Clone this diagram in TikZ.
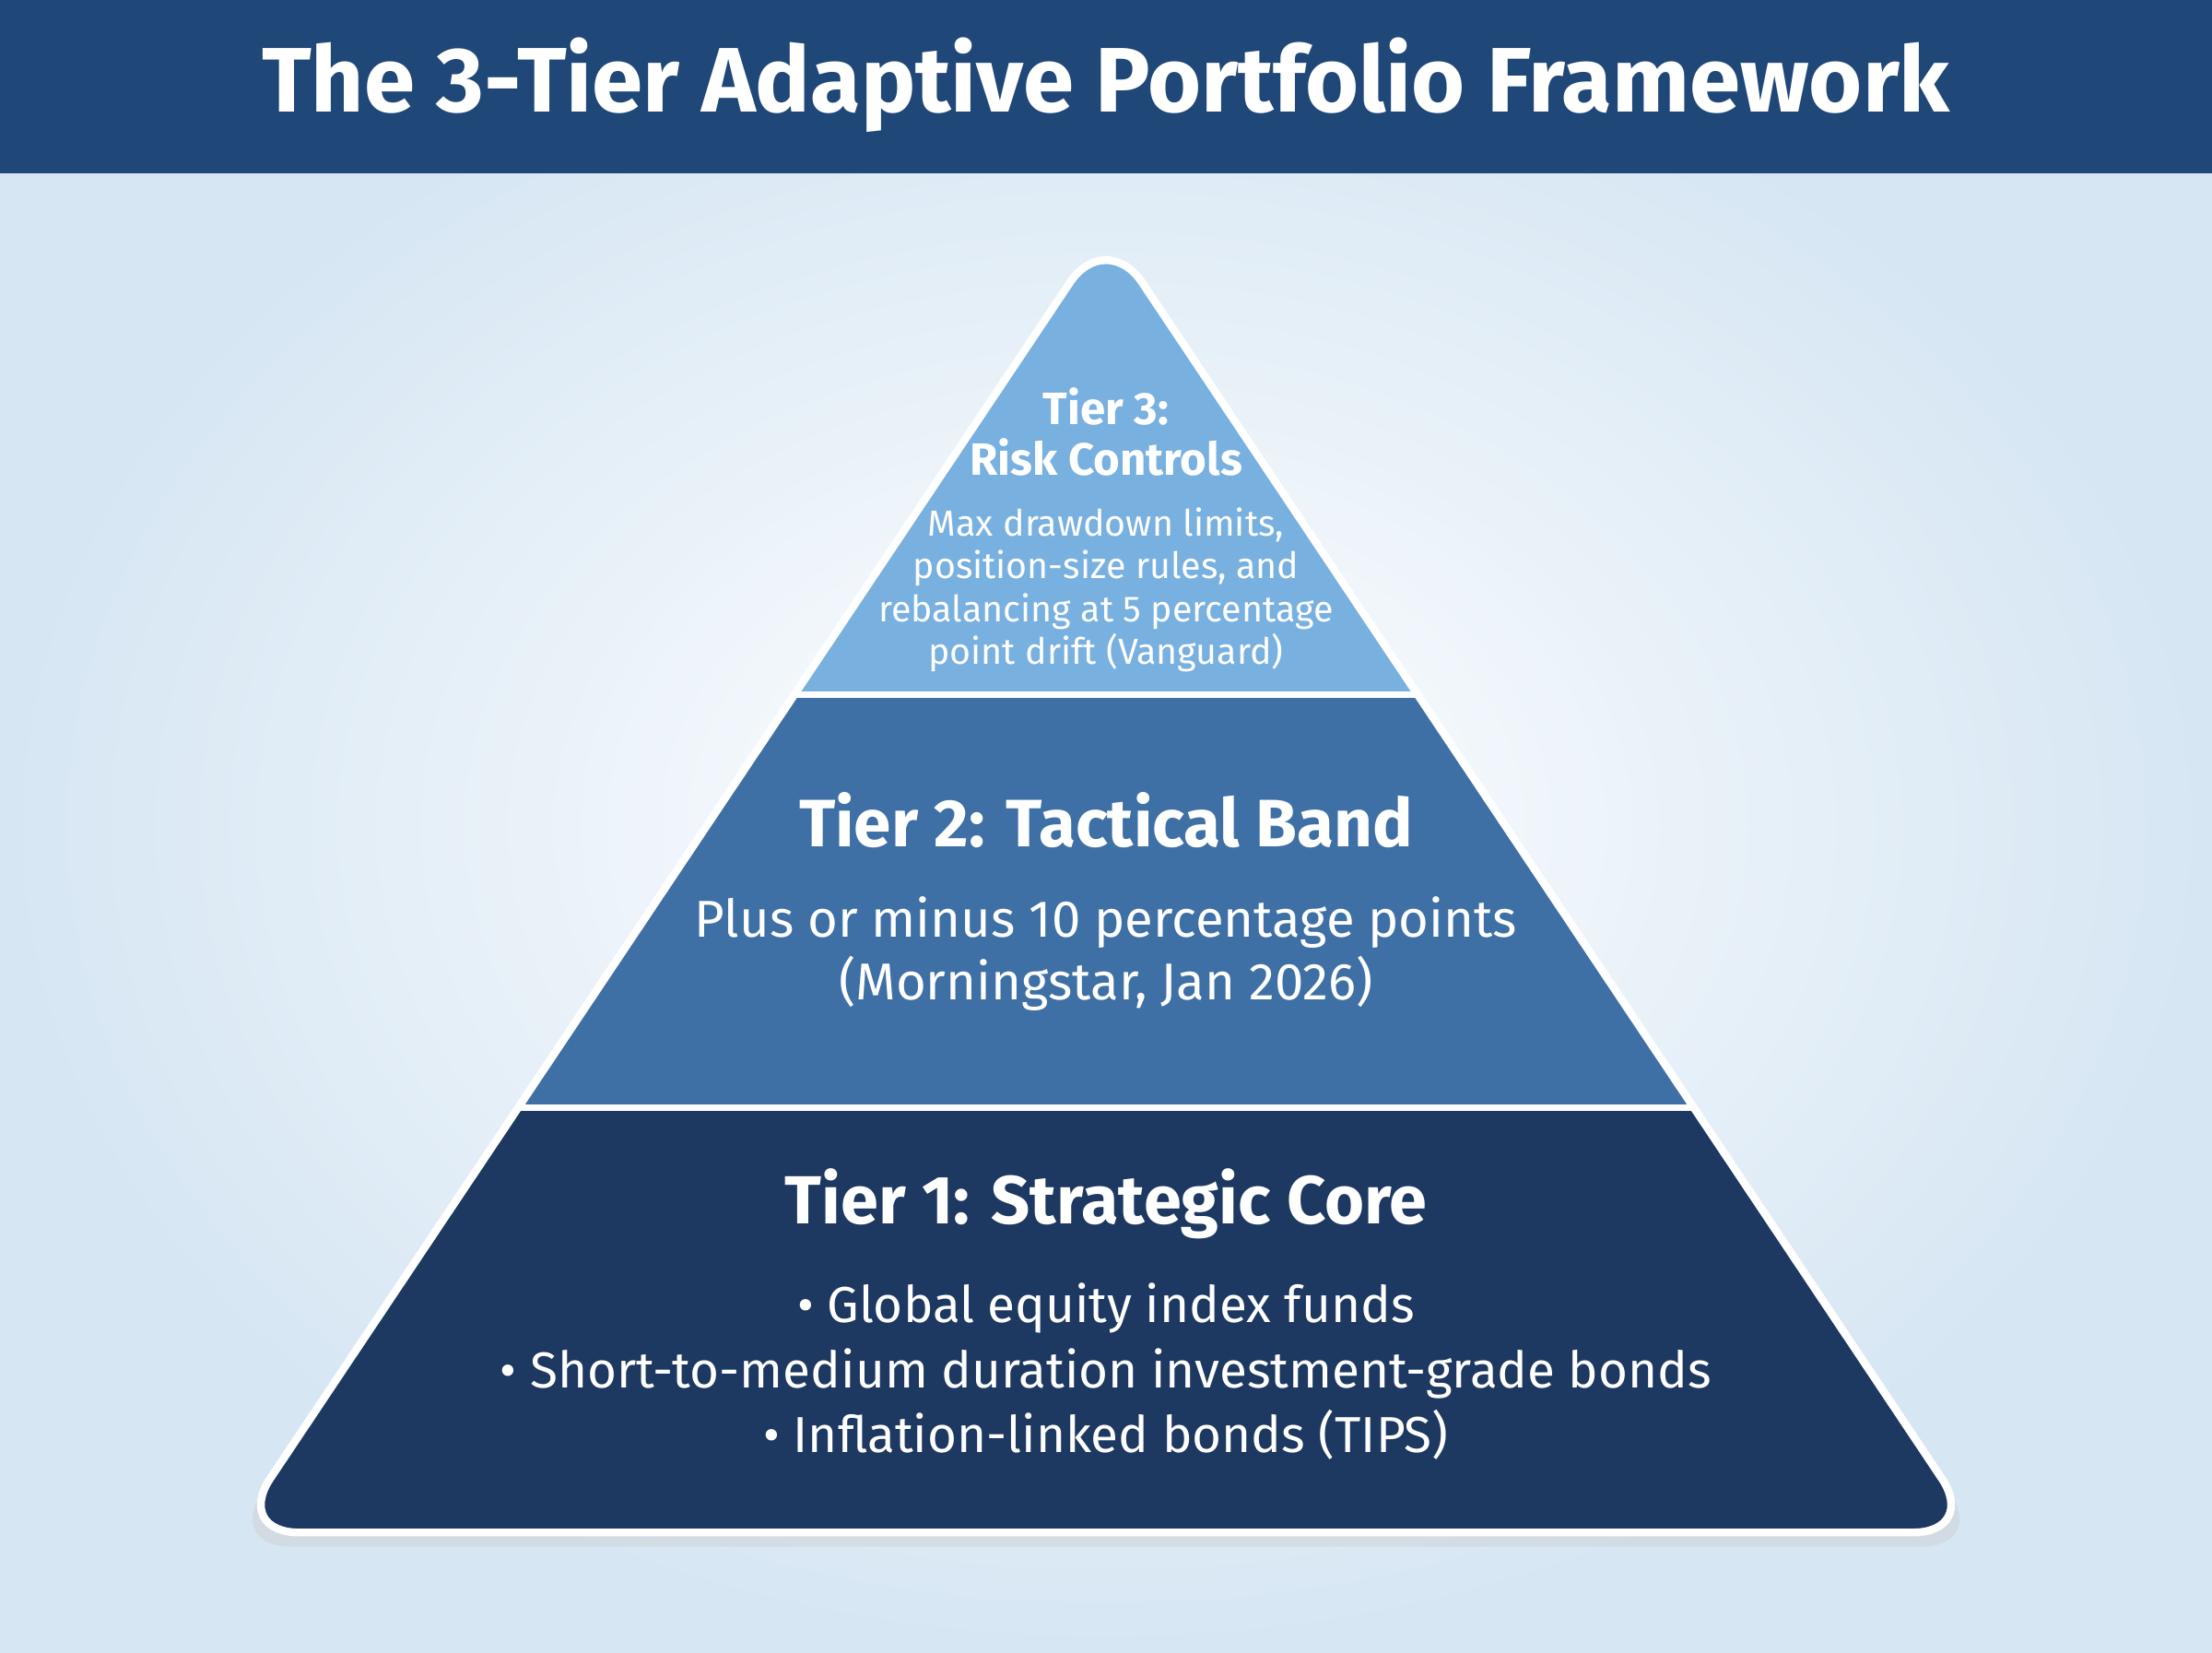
\documentclass[tikz,border=0pt]{standalone}
\usepackage{fontspec}
\setmainfont{Fira Sans}
\definecolor{titlebar}{HTML}{1F4778}
\definecolor{bgblue}{HTML}{D6E6F3}
\definecolor{tierthree}{HTML}{78B0E0}
\definecolor{tiertwo}{HTML}{3E70A6}
\definecolor{tierone}{HTML}{1D3861}
\begin{document}
\begin{tikzpicture}[x=0.01531cm, y=-0.01531cm]
    \tikzstyle{tierhead} = [text=white, font=\bfseries, align=center, inner sep=0pt]
    \tikzstyle{tierbody} = [text=white, align=center, inner sep=0pt]
  % background and title bar
  \useasboundingbox (0,0) rectangle (1568,1171);
  \shade[inner color=white, outer color=bgblue] (0,0) rectangle (1568,1171);
  \fill[titlebar] (0,0) rectangle (1568,123);
  \node[text=white, font=\fontsize{28.3}{34}\selectfont\bfseries](title) at (784,60){The 3-Tier Adaptive Portfolio Framework};
  % pyramid
  \coordinate (apex) at (784,162);
  \coordinate (bl) at (166,1086);
  \coordinate (br) at (1402,1086);
  \fill[black!20, opacity=.4, rounded corners=20] (784,172) -- (1408,1096) -- (160,1096) -- cycle;
  \begin{scope}
    \clip[rounded corners=20] (apex) -- (br) -- (bl) -- cycle;
    \fill[tierthree] (150,150) rectangle (1420,492);
    \fill[tiertwo] (150,492) rectangle (1420,785);
    \fill[tierone] (150,785) rectangle (1420,1100);
    \draw[white, line width=2pt] (150,492) -- (1420,492);
    \draw[white, line width=2pt] (150,785) -- (1420,785);
  \end{scope}
  \draw[white, line width=2.4pt, rounded corners=20] (apex) -- (br) -- (bl) -- cycle;
  % tier 3
  \node[tierhead, font=\fontsize{14}{15.6}\selectfont\bfseries](t3head) at (784,306){Tier 3:\\Risk Controls};
  \node[tierbody, font=\fontsize{11.2}{13.2}\selectfont](t3body) at (784,418){Max drawdown limits,\\position-size rules, and\\rebalancing at 5 percentage\\point drift (Vanguard)};
  % tier 2
  \node[tierhead, font=\fontsize{20.7}{26}\selectfont\bfseries](t2head) at (784,581){Tier 2: Tactical Band};
  \node[tierbody, font=\fontsize{16}{19.5}\selectfont](t2body) at (784,676){Plus or minus 10 percentage points\\(Morningstar, Jan 2026)};
  % tier 1
  \node[tierhead, font=\fontsize{21}{26}\selectfont\bfseries](t1head) at (784,853){Tier 1: Strategic Core};
  \node[tierbody, font=\fontsize{15.6}{20}\selectfont](t1body) at (784,972){• Global equity index funds\\• Short-to-medium duration investment-grade bonds\\• Inflation-linked bonds (TIPS)};
\end{tikzpicture}
\end{document}
